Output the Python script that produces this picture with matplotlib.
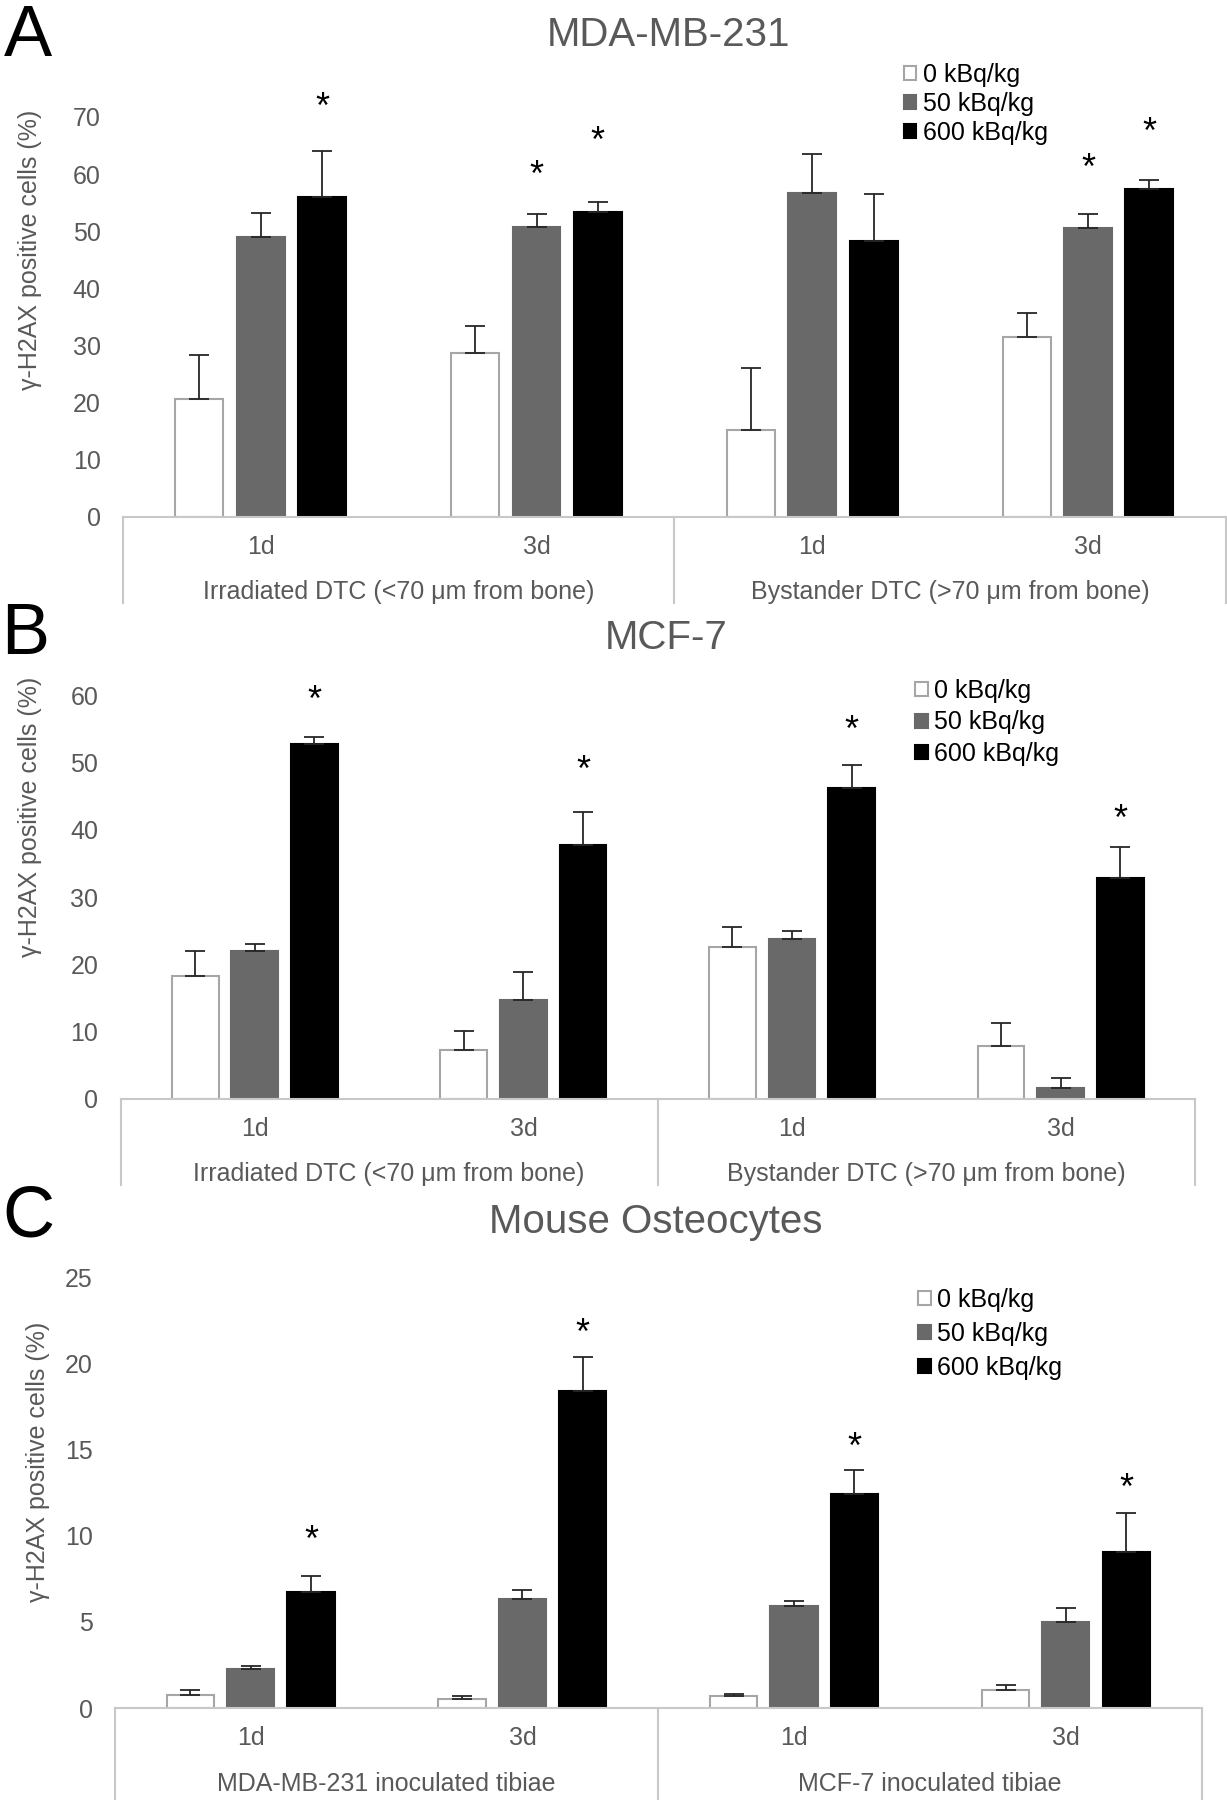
import matplotlib.pyplot as plt
from matplotlib.patches import Patch

plt.rcParams['font.family'] = ['Liberation Sans', 'DejaVu Sans']

W, H = 1227, 1800
fig = plt.figure(figsize=(W / 100, H / 100), dpi=100)

doses = ['0 kBq/kg', '50 kBq/kg', '600 kBq/kg']
days = ['1d', '3d', '1d', '3d']

# Panel A: MDA-MB-231
a_groups = ['Irradiated DTC (<70 μm from bone)', 'Bystander DTC (>70 μm from bone)']
a_0 = [20.6, 28.6, 15.2, 31.4]
a_50 = [49.0, 50.8, 56.6, 50.6]
a_600 = [55.9, 53.4, 48.3, 57.3]
a_0_err = [7.7, 4.7, 10.9, 4.2]
a_50_err = [4.1, 2.2, 6.9, 2.4]
a_600_err = [8.1, 1.7, 8.2, 1.7]
a_stars = [(0, 2, 73.1), (1, 1, 61.2), (1, 2, 67.2), (3, 1, 62.4), (3, 2, 68.7)]

# Panel B: MCF-7
b_groups = ['Irradiated DTC (<70 μm from bone)', 'Bystander DTC (>70 μm from bone)']
b_0 = [18.3, 7.2, 22.5, 7.8]
b_50 = [21.9, 14.7, 23.7, 1.5]
b_600 = [52.8, 37.8, 46.3, 32.8]
b_0_err = [3.6, 2.8, 3.0, 3.5]
b_50_err = [1.1, 4.2, 1.3, 1.5]
b_600_err = [1.1, 4.9, 3.4, 4.6]
b_stars = [(0, 2, 60.5), (1, 2, 50.1), (2, 2, 56.0), (3, 2, 42.7)]

# Panel C: Mouse osteocytes
c_groups = ['MDA-MB-231 inoculated tibiae', 'MCF-7 inoculated tibiae']
c_0 = [0.77, 0.54, 0.72, 1.06]
c_50 = [2.28, 6.32, 5.92, 5.01]
c_600 = [6.73, 18.38, 12.42, 9.08]
c_0_err = [0.25, 0.16, 0.10, 0.30]
c_50_err = [0.18, 0.52, 0.31, 0.77]
c_600_err = [0.93, 1.99, 1.42, 2.26]
c_stars = [(0, 2, 10.2), (1, 2, 22.2), (2, 2, 15.6), (3, 2, 13.2)]

face = ['white', '#696969', 'black']
edge = ['#A6A6A6', '#696969', 'black']
txt = '#595959'
line_col = '#C8C8C8'
fs = 18


def panel(box, ymax, ystep, vals, errs, stars, groups, title, title_xy, letter, letter_xy,
          ylab_xy, leg_xy, leg_space, box_depth):
    left, top, right, y0 = box  # pixel coords of plot area
    ax = fig.add_axes([left / W, 1 - y0 / H, (right - left) / W, (y0 - top) / H])
    h_px = y0 - top
    x = range(4)
    for i in range(3):
        pos = [k + (i - 1) * 0.222 for k in x]
        ax.bar(pos, vals[i], width=0.174, color=face[i], edgecolor=edge[i], linewidth=1.5, zorder=2)
        ax.errorbar(pos, vals[i], yerr=[[0] * 4, errs[i]], fmt='none', ecolor='#262626',
                    elinewidth=1.3, capsize=7, capthick=1.3, zorder=3)
    for k, i, yv in stars:
        ax.annotate('*', (k + (i - 1) * 0.222, yv), xytext=(0, -6.5), textcoords='offset points',
                    ha='center', va='center', fontsize=26, color='black', annotation_clip=False)
    ax.set_xlim(-0.5, 3.5)
    ax.set_ylim(0, ymax)
    ax.set_yticks(range(0, ymax + 1, ystep))
    ax.tick_params(axis='y', length=0, pad=16, labelsize=fs, labelcolor=txt)
    ax.set_xticks([])
    for s in ['top', 'right', 'left']:
        ax.spines[s].set_visible(False)
    ax.spines['bottom'].set_color(line_col)
    ax.spines['bottom'].set_linewidth(1.5)
    tr = ax.get_xaxis_transform()
    for xv in [-0.5, 1.5, 3.5]:
        ax.plot([xv, xv], [0, -box_depth / h_px], color=line_col, lw=1.5, transform=tr, clip_on=False)
    for k in x:
        ax.text(k, -30 / h_px, days[k], transform=tr, ha='center', va='center', fontsize=fs, color=txt)
    for g in range(2):
        ax.text(0.5 + 2 * g, -76 / h_px, groups[g], transform=tr, ha='center', va='center',
                fontsize=fs, color=txt)
    fig.text(title_xy[0] / W, 1 - title_xy[1] / H, title, ha='center', va='center', fontsize=29, color=txt)
    fig.text(letter_xy[0] / W, 1 - letter_xy[1] / H, letter, ha='center', va='center', fontsize=52, color='black')
    fig.text(ylab_xy[0] / W, 1 - ylab_xy[1] / H, 'γ-H2AX positive cells (%)', rotation=90,
             ha='center', va='center', fontsize=fs, color=txt)
    handles = [Patch(facecolor=face[i], edgecolor=edge[i], linewidth=1.5) for i in range(3)]
    fig.legend(handles, doses, loc='upper left', bbox_to_anchor=(leg_xy[0] / W, 1 - leg_xy[1] / H),
               frameon=False, fontsize=fs, handlelength=0.5, handleheight=0.5, handletextpad=0.25,
               labelspacing=leg_space, borderpad=0, borderaxespad=0, labelcolor='black')
    return ax


panel((122.8, 117, 1226, 516.5), 70, 10, [a_0, a_50, a_600], [a_0_err, a_50_err, a_600_err], a_stars,
      a_groups, 'MDA-MB-231', (669, 35), 'A', (28, 37), (30, 250), (904, 63), 0.2, 86)
panel((120.5, 695.6, 1195, 1098.5), 60, 10, [b_0, b_50, b_600], [b_0_err, b_50_err, b_600_err], b_stars,
      b_groups, 'MCF-7', (666, 638), 'B', (25, 636), (30, 817), (915, 679), 0.3, 86)
panel((114.8, 1277.5, 1201.7, 1708), 25, 5, [c_0, c_50, c_600], [c_0_err, c_50_err, c_600_err], c_stars,
      c_groups, 'Mouse Osteocytes', (656, 1222), 'C', (28, 1218), (38, 1462), (918, 1288), 0.4, 92)

fig.savefig('out.png', dpi=100)
